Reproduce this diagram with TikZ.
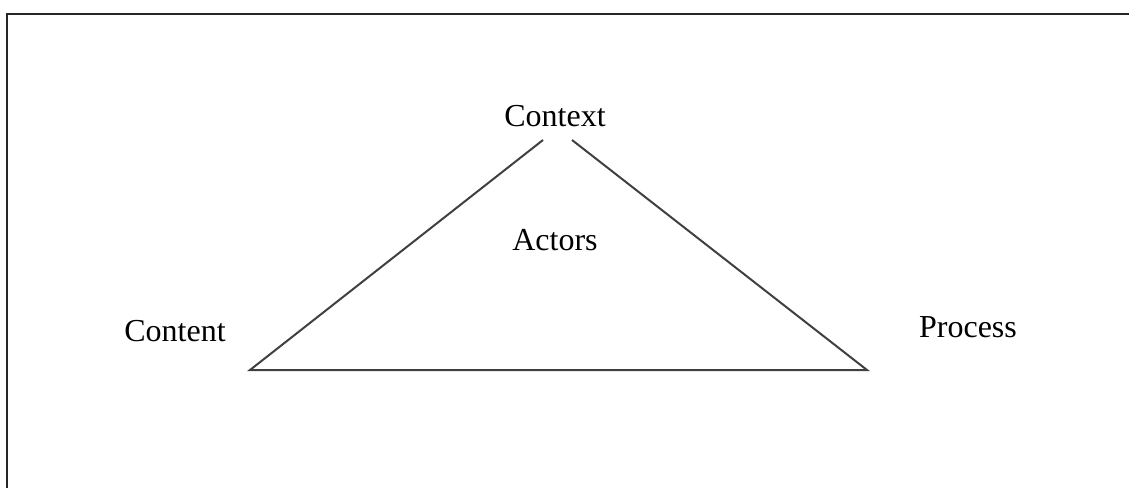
\documentclass[tikz,border=0pt]{standalone}
\usepackage{fontspec}
\setmainfont{Liberation Serif}
\usepackage{tikz}
\usetikzlibrary{positioning,calc}
\tikzset{side/.style={draw=black!75,line width=1pt},
  lbl/.style={font=\fontsize{16}{19}\selectfont,inner sep=0pt}}

\begin{document}
\begin{tikzpicture}[x=0.5pt,y=0.5pt]
\useasboundingbox (0,0) rectangle (1129,488);
\draw[black!85,line width=1.3pt] (7,0) -- (7,474) -- (1129,474);
\node[lbl] (context) at (555,372) {Context};
\node[lbl] (actors) at (555,248) {Actors};
\node[lbl] (content) at (175,157) {Content};
\node[lbl] (process) at (968,161) {Process};
\coordinate (ctxL) at (543,348);
\coordinate (ctxR) at (572,348);
\coordinate (cornerL) at (250,118);
\coordinate (cornerR) at (867,118);
\draw[side] (ctxL) -- (cornerL) -- (cornerR) -- (ctxR);
\end{tikzpicture}
\end{document}
